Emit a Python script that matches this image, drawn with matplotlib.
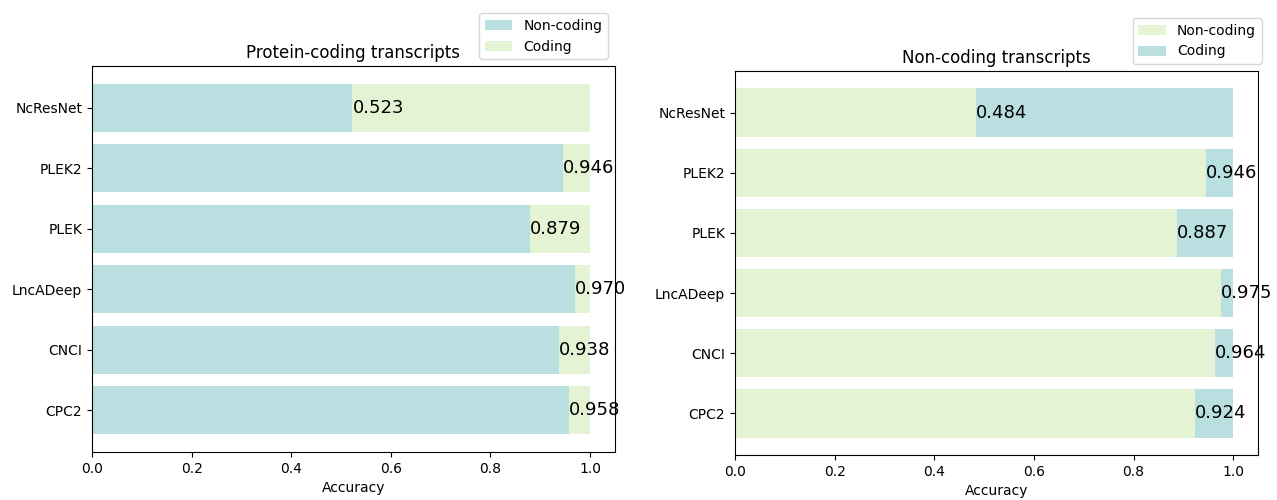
import matplotlib
matplotlib.use("Agg")
import matplotlib.pyplot as plt
import numpy as np

methods = ["CPC2", "CNCI", "LncADeep", "PLEK", "PLEK2", "NcResNet"]
protein_acc = [0.958, 0.938, 0.970, 0.879, 0.946, 0.523]
noncoding_acc = [0.924, 0.964, 0.975, 0.887, 0.946, 0.484]

blue = "#b9dfe1"
green = "#e4f3d4"

fig = plt.figure(figsize=(12.77, 5), dpi=100)
ax1 = fig.add_axes([0.072, 0.096, 0.4096, 0.772])
ax2 = fig.add_axes([0.5756, 0.09, 0.4096, 0.768])

y = np.arange(len(methods))


def draw(ax, acc, first_color, second_color, title):
    acc = np.array(acc)
    ax.barh(y, acc, color=first_color, label="Non-coding")
    ax.barh(y, 1 - acc, left=acc, color=second_color, label="Coding")
    for i, v in enumerate(acc):
        ax.text(v, i, f"{v:.3f}", ha="left", va="center", fontsize=13)
    ax.set_yticks(y)
    ax.set_yticklabels(methods)
    ax.set_xlabel("Accuracy")
    ax.set_title(title)


draw(ax1, protein_acc, blue, green, "Protein-coding transcripts")
ax1.legend(loc="lower right", bbox_to_anchor=(1.0, 1.0))

draw(ax2, noncoding_acc, green, blue, "Non-coding transcripts")
ax2.legend(loc="lower right", bbox_to_anchor=(1.02, 1.0))

fig.savefig("out.png", dpi=100)
